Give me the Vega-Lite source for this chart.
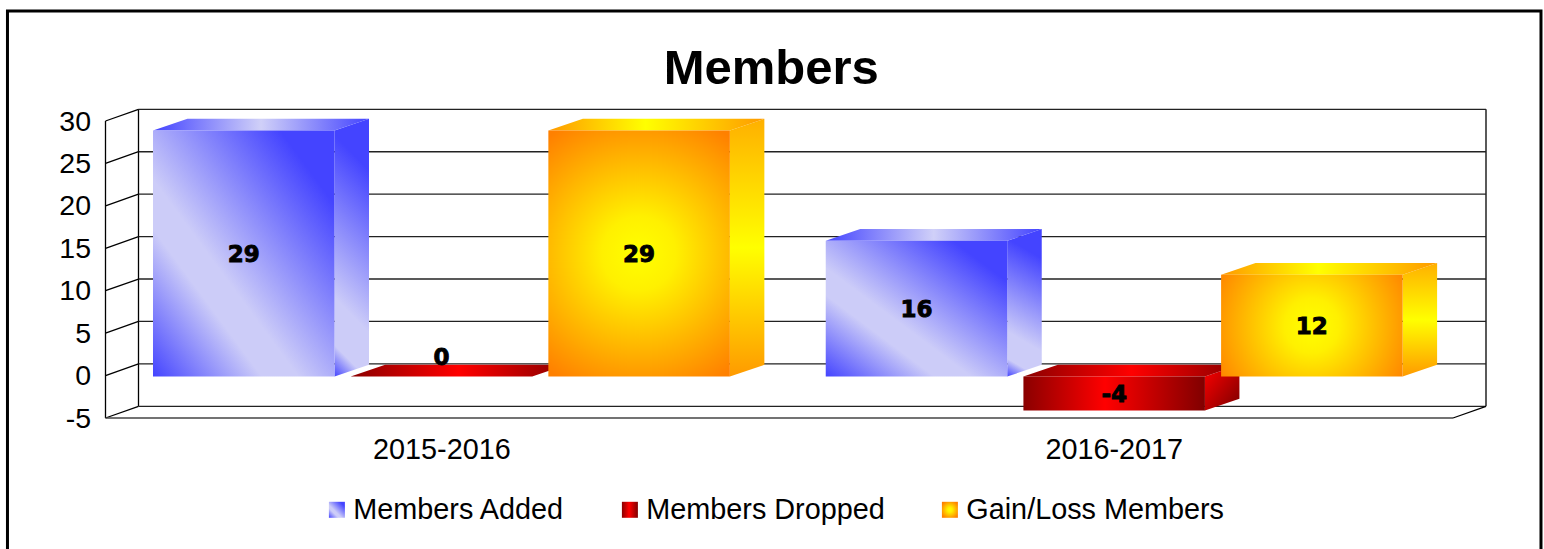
{
"$schema":"https://vega.github.io/schema/vega-lite/v6.json",
"autosize":{"type":"none"},
"width":1347.5,"height":297,
"padding":{"left":105.5,"top":121,"right":91,"bottom":131},
"background":"white",
"config":{"view":{"stroke":null},"font":"Liberation Sans"},
"title":{"text":"Members","font":"Liberation Sans","fontSize":49,"fontWeight":"bold","color":"black","anchor":"middle","dx":-8,"offset":-84.5},
"datasets":{
"bars":[
{"period":"2015-2016","series":"Members Added","value":29},
{"period":"2015-2016","series":"Members Dropped","value":0},
{"period":"2015-2016","series":"Gain/Loss Members","value":29},
{"period":"2016-2017","series":"Members Added","value":16},
{"period":"2016-2017","series":"Members Dropped","value":-4},
{"period":"2016-2017","series":"Gain/Loss Members","value":12}
],
"ticks":[{"tick":-5},{"tick":0},{"tick":5},{"tick":10},{"tick":15},{"tick":20},{"tick":25},{"tick":30}]
},
"data":{"name":"bars"},
"transform":[
{"calculate":"(datum.period==='2015-2016'?0:0.9985)+0.0705+0.2934*indexof(['Members Added','Members Dropped','Gain/Loss Members'],datum.series)","as":"left"},
{"calculate":"datum.left+0.2694","as":"right"},
{"calculate":"max(datum.value,0)","as":"top"},
{"calculate":"min(datum.value,0)","as":"base"}
],
"resolve":{"scale":{"color":"independent"}},
"layer":[
{"data":{"values":[{"edge":0},{"edge":2}]},"transform":[],
 "mark":{"type":"rule","color":"#000","strokeWidth":1.3,"xOffset":33,"yOffset":-11.7,"y2Offset":-11.7},
 "encoding":{
 "x":{"field":"edge","type":"quantitative","scale":{"domain":[0,2],"nice":false,"zero":false},
  "axis":{"title":null,"values":[0.4985,1.4965],"labelExpr":"datum.value<1?'2015-2016':'2016-2017'","labelFontSize":28.8,"labelColor":"black","labelFont":"Liberation Sans","ticks":false,"domain":false,"grid":false,"labelPadding":17}},
 "y":{"datum":-5,"type":"quantitative","scale":{"domain":[-5,30],"nice":false,"zero":false},
  "axis":{"title":null,"values":[-5,0,5,10,15,20,25,30],"labelExpr":"''+datum.value","labelFontSize":28.5,"labelColor":"black","labelFont":"Liberation Sans","ticks":false,"domain":false,"grid":false,"labelPadding":15,"labelOverlap":false,"labelFlush":false,"labelBound":false}},
 "y2":{"datum":30}}},
{"data":{"name":"ticks"},"transform":[],
 "mark":{"type":"rule","color":"#222","strokeWidth":1.3,"xOffset":33,"x2Offset":33,"yOffset":-11.7},
 "encoding":{"x":{"datum":0,"type":"quantitative"},"x2":{"datum":2},"y":{"field":"tick","type":"quantitative"}}},
{"data":{"name":"ticks"},"transform":[],
 "mark":{"type":"rule","color":"#000","strokeWidth":1.3,"x2Offset":33,"y2Offset":-11.7},
 "encoding":{"x":{"datum":0,"type":"quantitative"},"x2":{"datum":0},"y":{"field":"tick","type":"quantitative"},"y2":{"field":"tick"}}},
{"data":{"values":[{}]},"transform":[],
 "mark":{"type":"rule","color":"#000","strokeWidth":1.3},
 "encoding":{"x":{"datum":0,"type":"quantitative"},"y":{"datum":-5,"type":"quantitative"},"y2":{"datum":30}}},
{"data":{"values":[{}]},"transform":[],
 "mark":{"type":"rule","color":"#444","strokeWidth":1.3},
 "encoding":{"x":{"datum":0,"type":"quantitative"},"x2":{"datum":2},"y":{"datum":-5,"type":"quantitative"}}},
{"data":{"values":[{}]},"transform":[],
 "mark":{"type":"rule","color":"#000","strokeWidth":1.3,"x2Offset":33,"y2Offset":-11.7},
 "encoding":{"x":{"datum":2,"type":"quantitative"},"x2":{"datum":2},"y":{"datum":-5,"type":"quantitative"},"y2":{"datum":-5}}},
{"data":{"values":[{}]},"transform":[],
 "mark":{"type":"rect","fill":"transparent","stroke":"black","strokeWidth":3},
 "encoding":{"x":{"datum":-0.1455,"type":"quantitative"},"x2":{"datum":2.1306},"y":{"datum":42.95,"type":"quantitative"},"y2":{"datum":-25}}},
{"transform":[
 {"fold":["left","right"],"as":["edgeName","edgeX"]},
 {"calculate":"datum.edgeName==='left'?0:1.379","as":"rise"},
 {"calculate":"datum.top+datum.rise","as":"y0"},
 {"calculate":"datum.right+(datum.edgeName==='left'?0:0.0512)","as":"xs"},
 {"calculate":"datum.base+datum.rise","as":"y1"}
 ],
 "mark":{"type":"area","orient":"vertical","yOffset":1,"y2Offset":1},
 "encoding":{
 "x":{"field":"xs","type":"quantitative"},
 "y":{"field":"y0","type":"quantitative"},
 "y2":{"field":"y1"},
 "detail":{"field":"period"},
 "color":{"field":"series","type":"nominal","legend":null,"scale":{"domain":["Members Added","Members Dropped","Gain/Loss Members"],"range":[
  {"expr":"{gradient:'linear',x1:0,y1:1,x2:0.136,y2:0,stops:[{offset:0,color:'#4444ff'},{offset:0.12,color:'#ccccf8'},{offset:0.3,color:'#ccccf8'},{offset:0.92,color:'#4444ff'},{offset:1,color:'#4444ff'}]}"},
  {"expr":"{gradient:'linear',x1:0,y1:0,x2:1,y2:1,stops:[{offset:0,color:'#ff0000'},{offset:1,color:'#7a0000'}]}"},
  {"expr":"{gradient:'linear',x1:0,y1:0,x2:0,y2:1,stops:[{offset:0,color:'#ffb000'},{offset:0.5,color:'#ffff00'},{offset:1,color:'#ff9a00'}]}"}
 ]}}}},
{"transform":[
 {"fold":["top","base"],"as":["edgeName","unused"]},
 {"calculate":"datum.top+(datum.edgeName==='top'?0:1.379)","as":"y0"},
 {"calculate":"datum.left+(datum.edgeName==='top'?0:0.0512)","as":"xa"},
 {"calculate":"datum.right+(datum.edgeName==='top'?0:0.0512)","as":"xb"}
 ],
 "mark":{"type":"area","orient":"horizontal","yOffset":1},
 "encoding":{
 "y":{"field":"y0","type":"quantitative"},
 "x":{"field":"xa","type":"quantitative"},
 "x2":{"field":"xb"},
 "detail":{"field":"period"},
 "color":{"field":"series","type":"nominal","legend":null,"scale":{"domain":["Members Added","Members Dropped","Gain/Loss Members"],"range":[
  {"expr":"{gradient:'linear',x1:0,y1:0,x2:1,y2:0,stops:[{offset:0,color:'#4444ff'},{offset:0.5,color:'#d0d0f8'},{offset:1,color:'#4444ff'}]}"},
  {"expr":"{gradient:'linear',x1:0,y1:0,x2:1,y2:0,stops:[{offset:0,color:'#8a0000'},{offset:0.5,color:'#ff0000'},{offset:1,color:'#8a0000'}]}"},
  {"expr":"{gradient:'linear',x1:0,y1:0,x2:1,y2:0,stops:[{offset:0,color:'#ff9a00'},{offset:0.45,color:'#ffff00'},{offset:1,color:'#ff9a00'}]}"}
 ]}}}},
{"mark":{"type":"rect","yOffset":1,"y2Offset":1},
 "encoding":{
 "x":{"field":"left","type":"quantitative"},
 "x2":{"field":"right"},
 "y":{"field":"top","type":"quantitative"},
 "y2":{"field":"base"},
 "color":{"field":"series","type":"nominal",
  "legend":{"title":null,"orient":"none","legendX":217,"legendY":374,"direction":"horizontal","columns":3,"symbolType":"square","symbolSize":256,"symbolStrokeWidth":0,"labelFontSize":28.8,"labelFont":"Liberation Sans","labelColor":"black","labelOffset":2,"columnPadding":50,"labelLimit":400},
  "scale":{"domain":["Members Added","Members Dropped","Gain/Loss Members"],"range":[
  {"expr":"{gradient:'linear',x1:0,y1:1,x2:1,y2:0,stops:[{offset:0,color:'#4444ff'},{offset:0.3,color:'#ccccf8'},{offset:0.4,color:'#ccccf8'},{offset:0.85,color:'#4444ff'},{offset:1,color:'#4444ff'}]}"},
  {"expr":"{gradient:'linear',x1:0,y1:0,x2:1,y2:0,stops:[{offset:0,color:'#8a0000'},{offset:0.45,color:'#ff0000'},{offset:1,color:'#800000'}]}"},
  {"expr":"{gradient:'radial',x1:0.5,y1:0.5,r1:0,x2:0.5,y2:0.5,r2:0.6,stops:[{offset:0,color:'#ffff00'},{offset:0.25,color:'#fff000'},{offset:1,color:'#ff8000'}]}"}
 ]}}}},
{"transform":[
 {"calculate":"(datum.left+datum.right)/2","as":"mid"},
 {"calculate":"datum.value===0?2.3:datum.value/2","as":"labelY"},
 {"calculate":"''+datum.value","as":"labelText"}
 ],
 "mark":{"type":"text","font":"DejaVu Sans","fontWeight":"bold","fontSize":23,"color":"black","stroke":"black","strokeWidth":0.9,"baseline":"middle","align":"center","yOffset":2},
 "encoding":{
 "x":{"field":"mid","type":"quantitative"},
 "y":{"field":"labelY","type":"quantitative"},
 "text":{"field":"labelText","type":"nominal"}}}
]
}
